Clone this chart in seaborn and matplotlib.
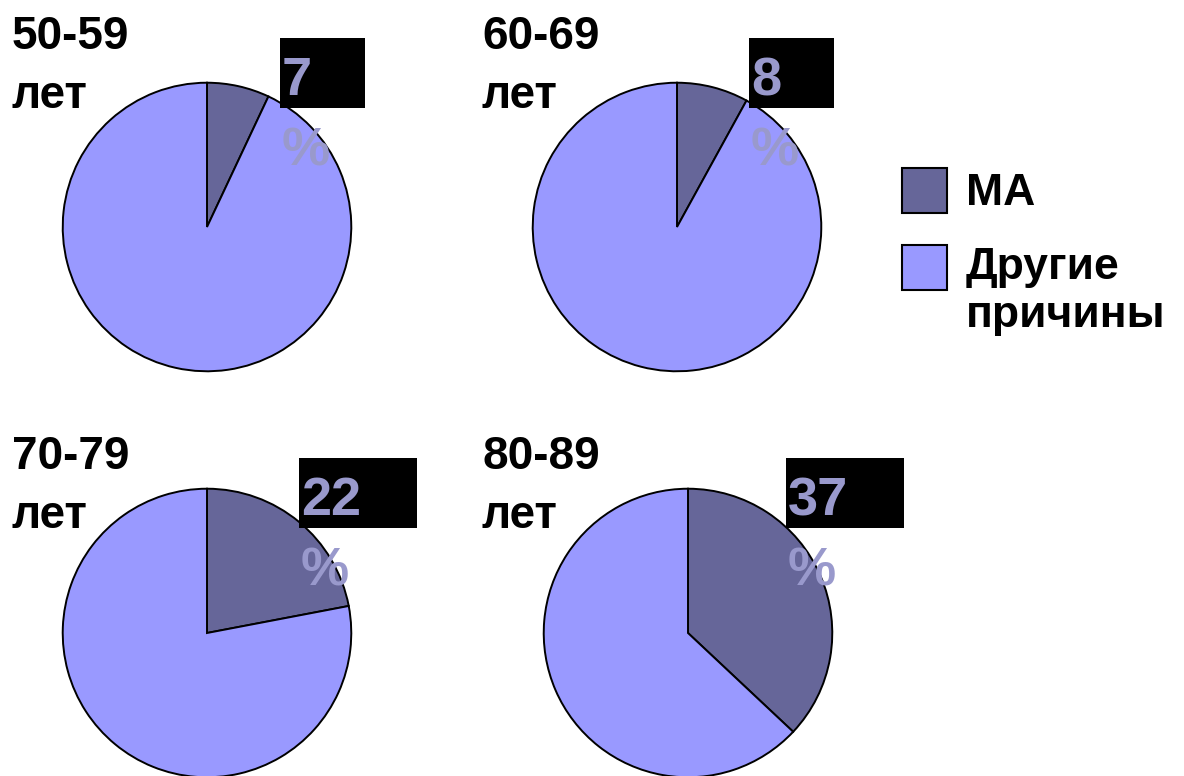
import matplotlib
matplotlib.use("Agg")
import matplotlib.pyplot as plt
from matplotlib.patches import Rectangle
import seaborn as sns

# Share of deaths attributed to MA by age group (percent)
age_groups = ["50-59", "60-69", "70-79", "80-89"]
ma_share = [7, 8, 22, 37]
other_share = [100 - v for v in ma_share]
series_names = ["МА", "Другие\nпричины"]
colors = ["#666699", "#9999FF"]
label_color = "#9999CC"

sns.set_theme(style="white")
plt.rcParams["font.family"] = ["Liberation Sans", "DejaVu Sans"]

W, H = 1184, 776
fig = plt.figure(figsize=(W / 100, H / 100), dpi=100)

R = 145  # pie radius in pixels
centers = [(207, 227), (677, 227), (207, 633), (688, 633)]
title_pos = [(12, 108), (482, 108), (12, 528), (482, 528)]  # left, last baseline
# label box: (left offset from centre, top offset from centre, width)
label_boxes = [(73, -189, 85), (72, -189, 85), (92, -175, 118), (98, -175, 118)]


def fx(x):
    return x / W


def fy(y):
    return 1 - y / H


for i, (grp, ma, other) in enumerate(zip(age_groups, ma_share, other_share)):
    cx, cy = centers[i]
    ax = fig.add_axes([fx(cx - R), fy(cy + R), 2 * R / W, 2 * R / H])
    ax.pie([ma, other], colors=colors, startangle=90, counterclock=False,
           radius=1.0, wedgeprops=dict(edgecolor="black", linewidth=1.4))
    ax.set_xlim(-1.005, 1.005)
    ax.set_ylim(-1.005, 1.005)
    ax.set_aspect("equal")
    ax.axis("off")

    # age group title
    tx, ty = title_pos[i]
    fig.text(fx(tx), fy(ty), f"{grp}\nлет",
             fontsize=33, fontweight="bold", color="black",
             ha="left", va="baseline", linespacing=1.44)

    # value label: black box with number, percent sign underneath
    dx, dy, bw = label_boxes[i]
    bx, by = cx + dx, cy + dy
    fig.patches.append(Rectangle((fx(bx), fy(by + 70)), bw / W, 70 / H,
                                 transform=fig.transFigure, facecolor="black",
                                 edgecolor="none", zorder=5))
    fig.text(fx(bx + 2), fy(by + 57), f"{ma}", fontsize=39, fontweight="bold",
             color=label_color, ha="left", va="baseline", zorder=6)
    fig.text(fx(bx + 2), fy(by + 127), "%", fontsize=39, fontweight="bold",
             color=label_color, ha="left", va="baseline", zorder=6)

# legend
sq = 45
legend_rows = [(168, 205), (245, 327)]  # square top, baseline of last text line
for (top, base), name, col in zip(legend_rows, series_names, colors):
    fig.patches.append(Rectangle((fx(902), fy(top + sq)), sq / W, sq / H,
                                 transform=fig.transFigure, facecolor=col,
                                 edgecolor="black", linewidth=1.5))
    fig.text(fx(966), fy(base), name, fontsize=32, fontweight="bold",
             color="black", ha="left", va="baseline", linespacing=1.22)

fig.savefig("out.png", dpi=100, facecolor="white")
